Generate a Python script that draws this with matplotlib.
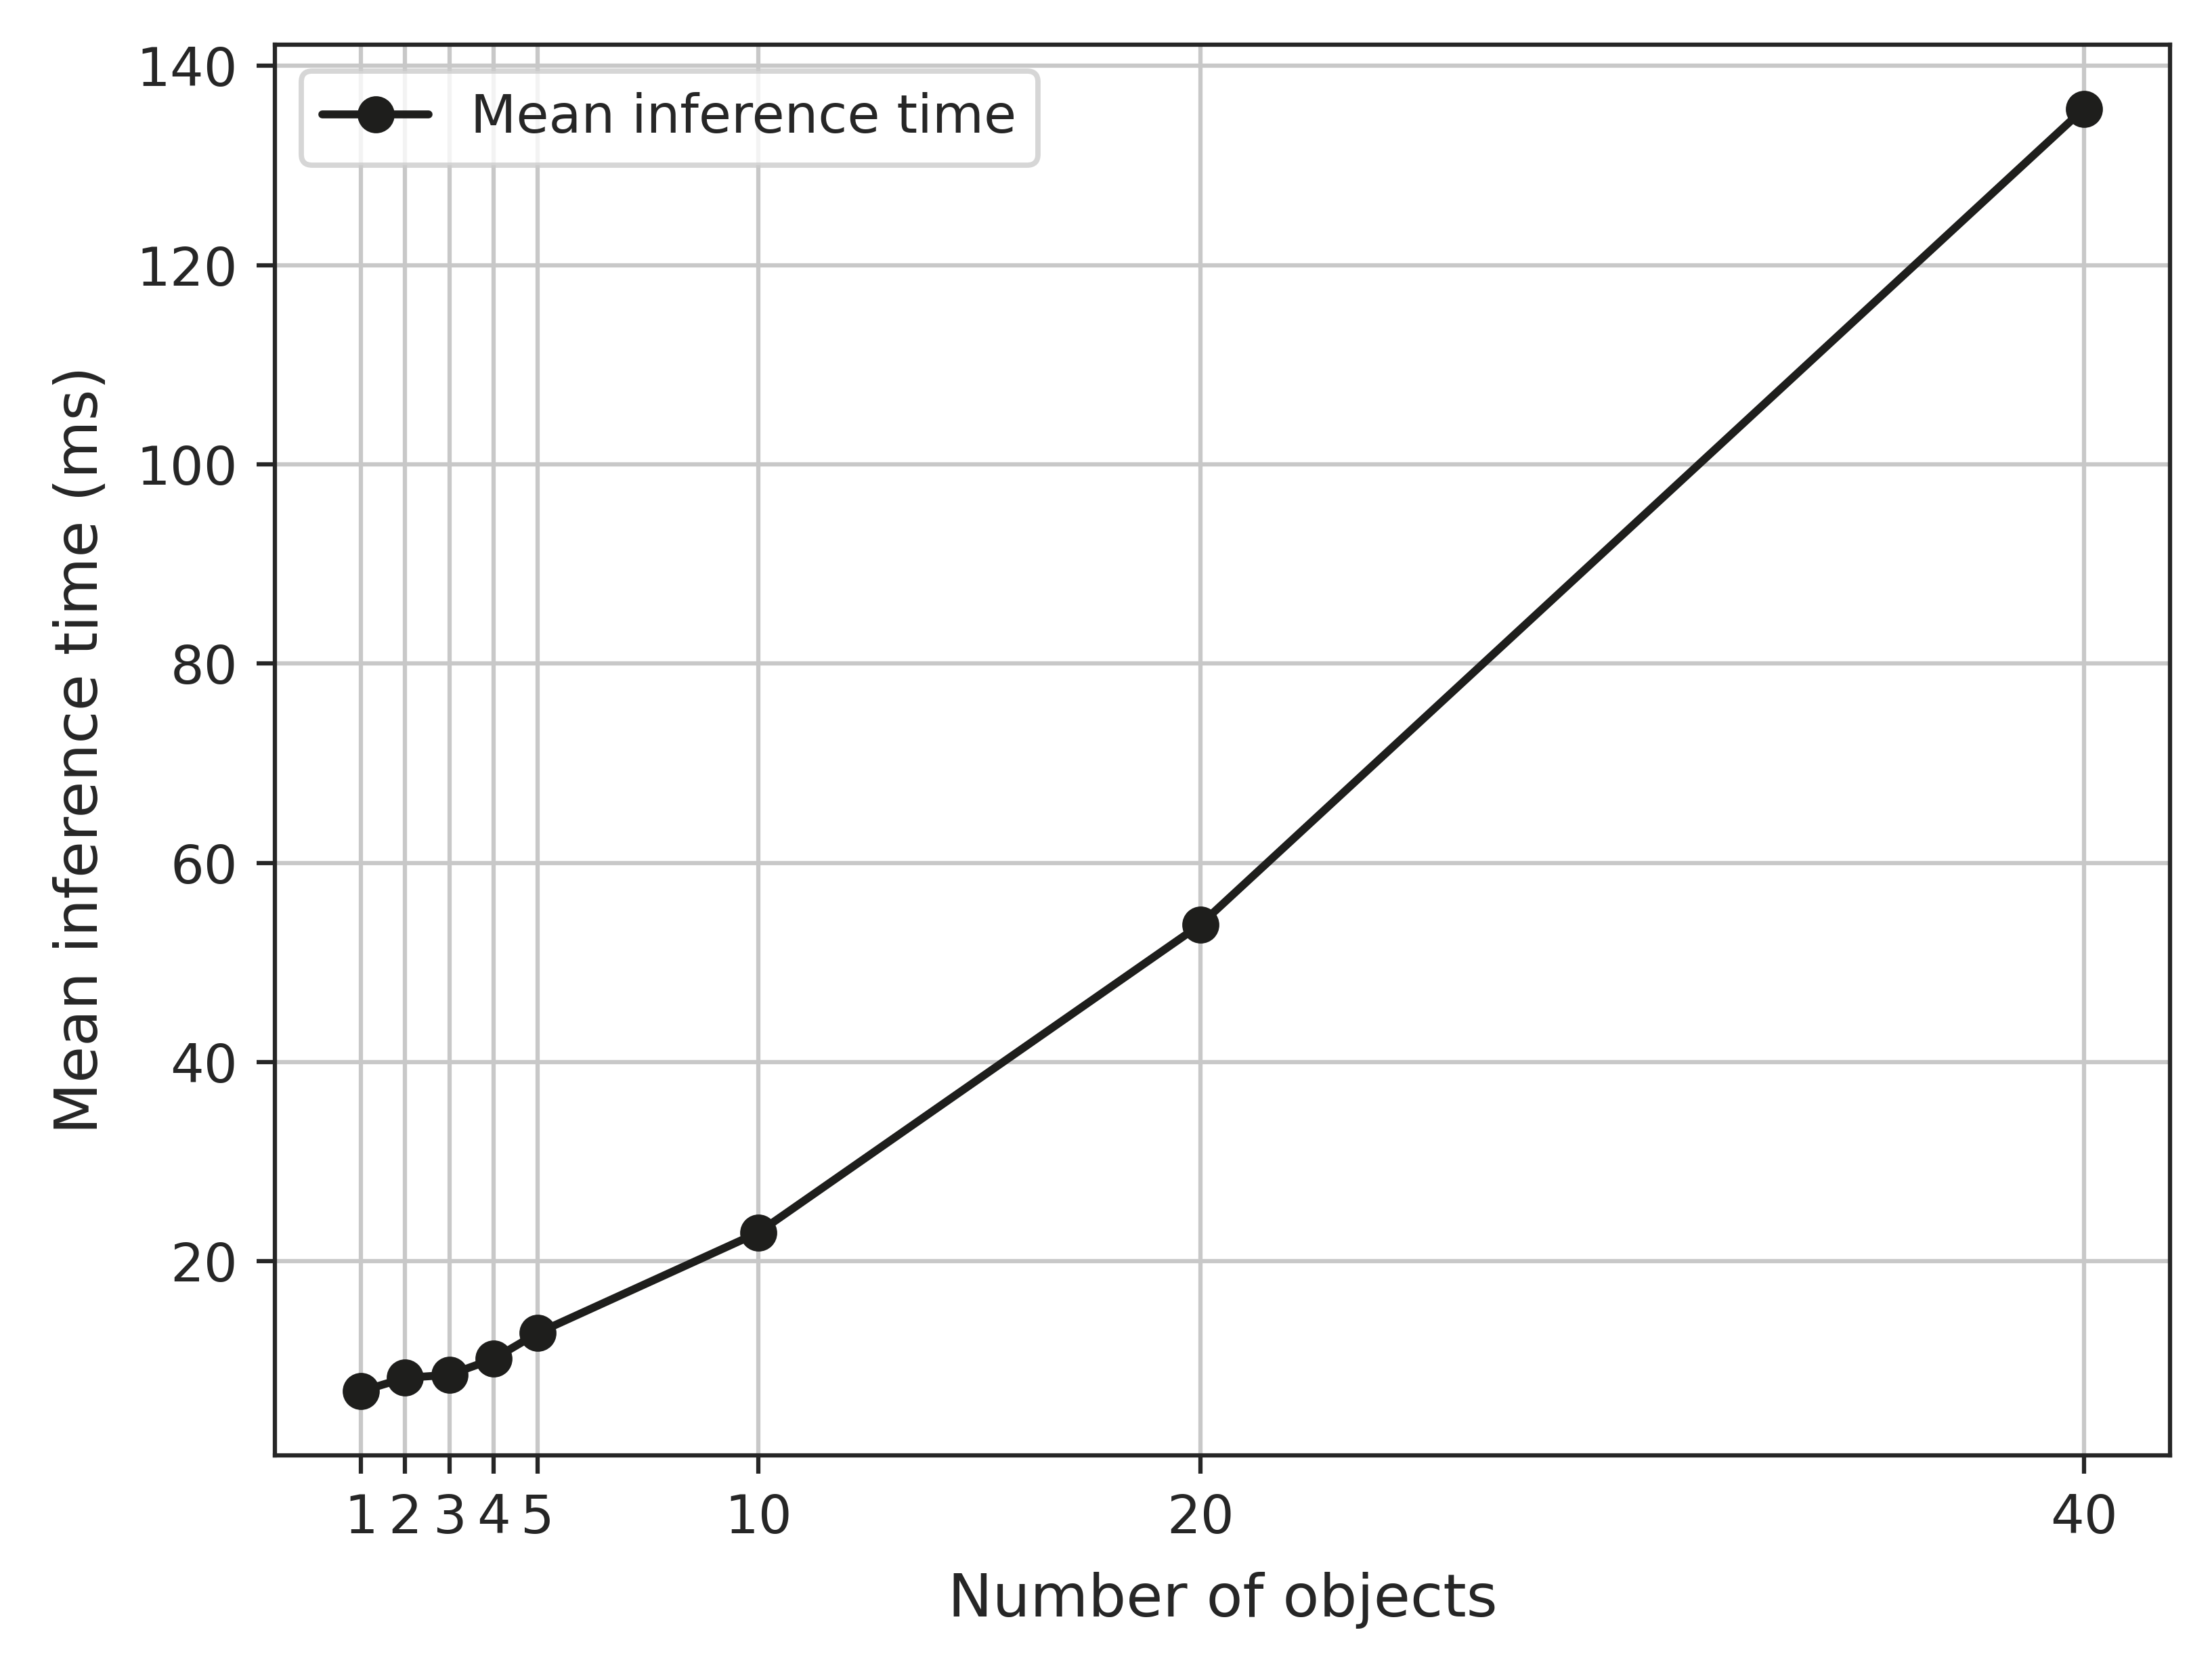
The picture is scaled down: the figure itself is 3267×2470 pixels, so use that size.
import matplotlib
matplotlib.use("Agg")
import matplotlib.pyplot as plt
import seaborn as sns

num_objects = [1, 2, 3, 4, 5, 10, 20, 40]
mean_time_ms = [6.95, 8.3, 8.6, 10.2, 12.8, 22.9, 53.8, 135.7]
x_ticks = [1, 2, 3, 4, 5, 10, 20, 40]

sns.set_style("ticks")
plt.rcParams['font.family'] = ['DejaVu Sans']

DPI = 563
fig = plt.figure(figsize=(3267 / DPI, 2470 / DPI), dpi=DPI)
ax = fig.add_axes([406 / 3267, 1 - 2150 / 2470, (3205 - 406) / 3267, (2150 - 66) / 2470])

ax.plot(num_objects, mean_time_ms, marker='o', color='#1e1e1c', linewidth=1.5,
        markersize=6, label='Mean inference time')
ax.set_xticks(x_ticks)
ax.set_xticklabels([str(v) for v in x_ticks])
ax.grid(True, color='#c8c8c8', linewidth=0.8)
ax.set_xlabel('Number of objects', fontsize=11.25, labelpad=5.3)
ax.set_ylabel('Mean inference time (ms)', fontsize=11.25, labelpad=5.1)
ax.tick_params(labelsize=10)
ax.legend(loc='upper left', fontsize=10)

fig.savefig('out.png', dpi=DPI)
